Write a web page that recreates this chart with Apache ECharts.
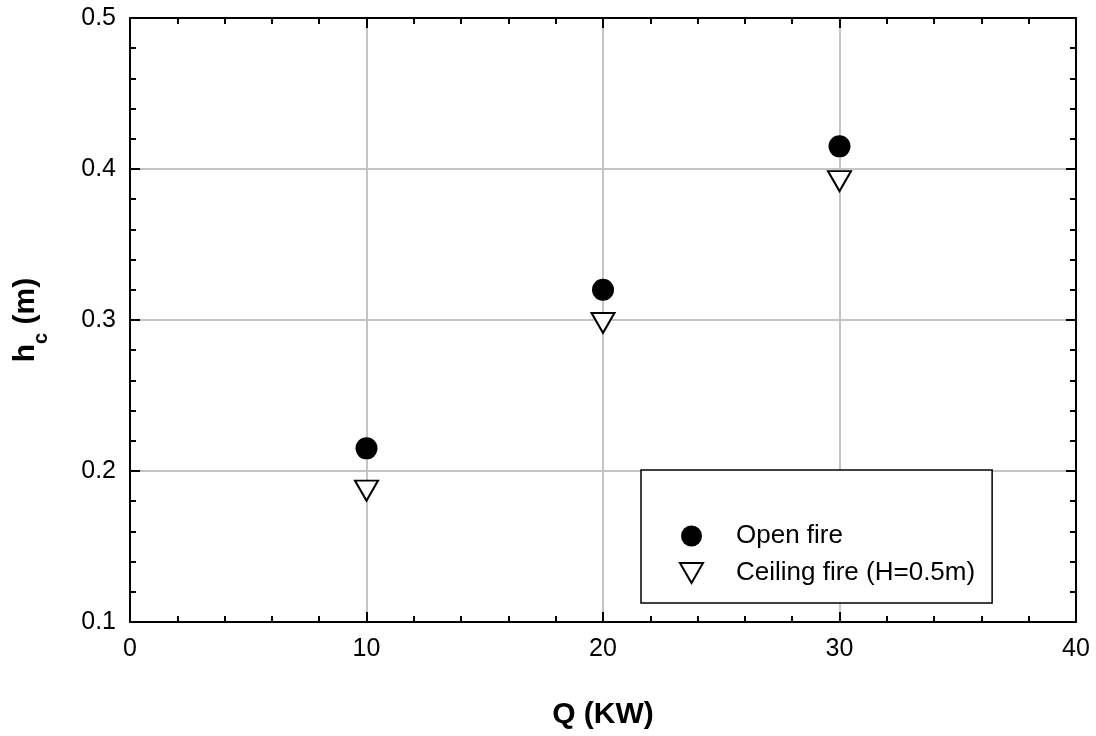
<!DOCTYPE html>
<html>
<head>
<meta charset="utf-8">
<script src="https://cdn.jsdelivr.net/npm/echarts@6/dist/echarts.min.js"></script>
<style>
  html, body { margin: 0; padding: 0; background: #fff; }
  #chart { width: 1096px; height: 736px; }
</style>
</head>
<body>
<div id="chart"></div>
<script>
// Flame height h_c versus heat release rate Q
const heatRelease = [10, 20, 30];              // Q (kW)
const openFire = [0.215, 0.32, 0.415];        // h_c (m), open fire
const ceilingFire = [0.187, 0.298, 0.392];    // h_c (m), ceiling fire, H = 0.5 m
const seriesNames = ['Open fire', 'Ceiling fire (H=0.5m)'];
const xTicks = { min: 0, max: 40, interval: 10 };
const yTicks = { min: 0.1, max: 0.5, interval: 0.1 };

const FONT = '"Liberation Sans", Arial, Helvetica, sans-serif';
// downward-pointing triangle used for the ceiling-fire marker
const DOWN_TRIANGLE = 'path://M0,0 L23,0 L11.5,20 Z';

function pairs(xs, ys) { return xs.map((x, i) => [x, ys[i]]); }

const axisLine = { show: true, onZero: false, lineStyle: { color: '#000', width: 2 } };
const axisTick = { show: true, inside: true, length: 10, lineStyle: { color: '#000', width: 2 } };
const minorTick = { show: true, splitNumber: 5, length: 6, lineStyle: { color: '#000', width: 2 } };
const grid = { left: 130, right: 20, top: 18, bottom: 114 };

const chart = echarts.init(document.getElementById('chart'), null, { renderer: 'canvas' });
chart.setOption({
  animation: false,
  backgroundColor: '#fff',
  textStyle: { fontFamily: FONT },
  grid: grid,
  xAxis: [
    {
      type: 'value', position: 'bottom',
      min: xTicks.min, max: xTicks.max, interval: xTicks.interval,
      axisLine, axisTick, minorTick,
      axisLabel: { color: '#000', fontSize: 25, fontFamily: FONT, margin: 15 },
      splitLine: { show: true, lineStyle: { color: '#c4c4c4', width: 2 } },
      name: 'Q (KW)', nameLocation: 'middle', nameGap: 78,
      nameTextStyle: { color: '#000', fontSize: 30, fontWeight: 'bold', fontFamily: FONT }
    },
    {
      type: 'value', position: 'top',
      min: xTicks.min, max: xTicks.max, interval: xTicks.interval,
      axisLine, axisTick, minorTick,
      axisLabel: { show: false }, splitLine: { show: false }
    }
  ],
  yAxis: [
    {
      type: 'value', position: 'left',
      min: yTicks.min, max: yTicks.max, interval: yTicks.interval,
      axisLine, axisTick, minorTick,
      axisLabel: { color: '#000', fontSize: 25, fontFamily: FONT, margin: 14,
        formatter: v => v.toFixed(1) },
      splitLine: { show: true, lineStyle: { color: '#c4c4c4', width: 2 } },
      name: '{m|h}{s|c}{m| (m)}', nameLocation: 'middle', nameGap: 89, nameRotate: 90,
      nameTextStyle: {
        color: '#000', fontFamily: FONT,
        rich: {
          m: { fontSize: 30, fontWeight: 'bold', fontFamily: FONT, color: '#000', verticalAlign: 'bottom', lineHeight: 36 },
          s: { fontSize: 20, fontWeight: 'bold', fontFamily: FONT, color: '#000', verticalAlign: 'bottom', lineHeight: 36, padding: [0, 0, -10, 0] }
        }
      }
    },
    {
      type: 'value', position: 'right',
      min: yTicks.min, max: yTicks.max, interval: yTicks.interval,
      axisLine, axisTick, minorTick,
      axisLabel: { show: false }, splitLine: { show: false }
    }
  ],
  legend: {
    orient: 'vertical',
    left: 641, top: 470,
    padding: [53, 17, 17, 38],
    itemGap: 11,
    itemWidth: 23, itemHeight: 21,
    borderColor: '#000', borderWidth: 1.5,
    backgroundColor: '#fff',
    textStyle: { color: '#000', fontSize: 26, fontFamily: FONT, padding: [0, 0, 0, 28] },
    data: [
      { name: seriesNames[0], icon: 'circle' },
      { name: seriesNames[1], icon: DOWN_TRIANGLE }
    ]
  },
  series: [
    {
      name: seriesNames[0], type: 'scatter',
      symbol: 'circle', symbolSize: 22,
      itemStyle: { color: '#000', opacity: 1 },
      data: pairs(heatRelease, openFire)
    },
    {
      name: seriesNames[1], type: 'scatter',
      symbol: DOWN_TRIANGLE, symbolSize: [23, 20],
      itemStyle: { color: '#fff', borderColor: '#000', borderWidth: 2, opacity: 1 },
      data: pairs(heatRelease, ceilingFire)
    }
  ]
});
</script>
</body>
</html>
